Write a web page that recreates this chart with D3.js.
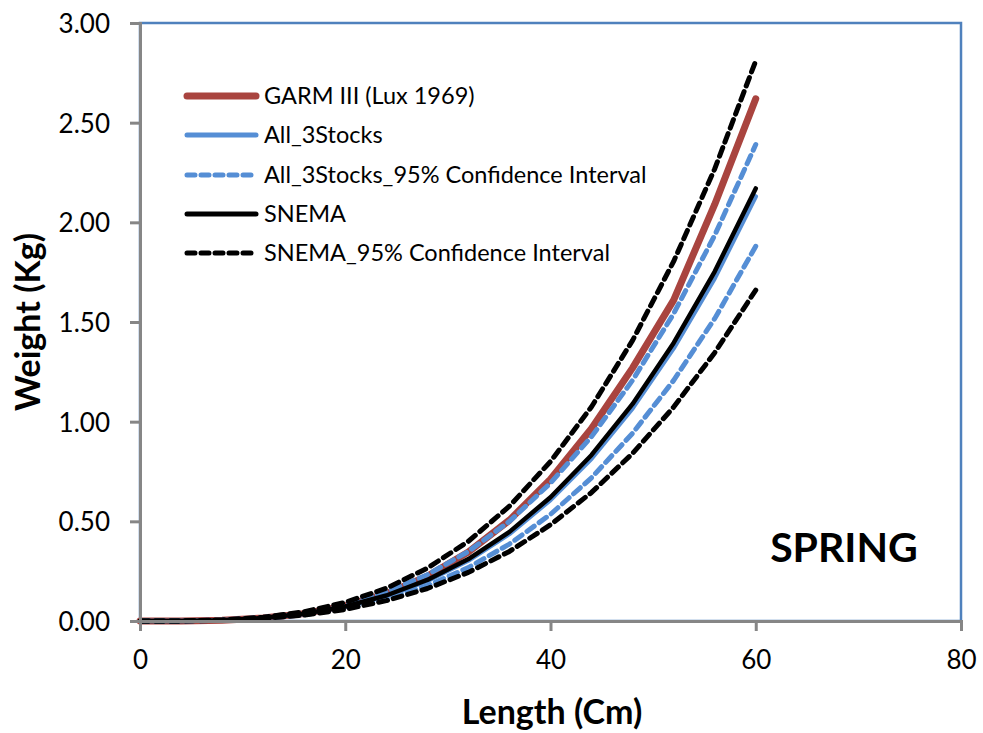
<!DOCTYPE html>
<html><head><meta charset="utf-8">
<script src="https://cdnjs.cloudflare.com/ajax/libs/d3/7.8.5/d3.min.js"></script>
<style>body{margin:0;background:#fff}svg{display:block}text{font-family:Lato,"Open Sans",sans-serif}</style>
</head><body><svg id="c" width="983" height="733"></svg>
<script>
const lengths = [0,4,8,12,16,20,24,28,32,36,40,44,48,52,56,60];
const garm      = [0,0.0004,0.004,0.0148,0.037,0.076,0.137,0.225,0.346,0.506,0.711,0.966,1.27,1.61,2.09,2.62];
const all3      = [0,0.0005,0.0041,0.0145,0.0354,0.0707,0.124,0.201,0.303,0.437,0.607,0.815,1.067,1.368,1.719,2.13];
const all3Upper = [0,0.0006,0.005,0.0174,0.0418,0.0828,0.145,0.232,0.349,0.500,0.692,0.925,1.208,1.542,1.935,2.39];
const all3Lower = [0,0.0004,0.0036,0.0128,0.0312,0.0624,0.110,0.177,0.268,0.386,0.535,0.719,0.942,1.207,1.517,1.88];
const snema     = [0,0.0005,0.0043,0.015,0.0365,0.0727,0.128,0.206,0.311,0.447,0.621,0.833,1.089,1.395,1.753,2.17];
const snemaUpper= [0,0.0006,0.0055,0.0192,0.0466,0.0933,0.164,0.265,0.400,0.576,0.800,1.075,1.408,1.804,2.268,2.81];
const snemaLower= [0,0.0004,0.0036,0.0123,0.0294,0.0581,0.102,0.163,0.244,0.349,0.483,0.645,0.841,1.073,1.346,1.66];
const xTicks = [0,20,40,60,80];
const yTicks = [0,0.5,1,1.5,2,2.5,3];
const seriesNames = ["GARM III (Lux 1969)","All_3Stocks","All_3Stocks_95% Confidence Interval","SNEMA","SNEMA_95% Confidence Interval"];

const svg = d3.select("#c");
const L=140,R=961,T=23,B=621;
const x = d3.scaleLinear().domain([0,80]).range([L,R]);
const y = d3.scaleLinear().domain([0,3]).range([B,T]);

svg.append("rect").attr("x",L).attr("y",T).attr("width",R-L).attr("height",B-T)
  .attr("fill","none").attr("stroke","#4F81BD").attr("stroke-width",2.5);

const red="#A9443F", blue="#558ED5", black="#000";
const dash="9,6";
const styles = [
  {d:snemaLower, c:black, w:5, dash:dash},
  {d:snemaUpper, c:black, w:5, dash:dash},
  {d:all3Lower, c:blue, w:5, dash:dash},
  {d:all3Upper, c:blue, w:5, dash:dash},
  {d:all3, c:blue, w:4.5, dash:null},
  {d:snema, c:black, w:4.5, dash:null},
  {d:garm, c:red, w:7, dash:null}
];
const order=[6,3,2,4,5,1,0];
const line = d3.line().x((v,i)=>x(lengths[i])).y(v=>y(v));
order.forEach(k=>{
  const s=styles[k];
  svg.append("path").attr("d",line(s.d)).attr("fill","none").attr("stroke",s.c)
    .attr("stroke-width",s.w).attr("stroke-linecap","round").attr("stroke-linejoin","round")
    .attr("stroke-dasharray",s.dash);
});

const xAxis = svg.append("g").attr("transform",`translate(0,${B})`)
  .call(d3.axisBottom(x).tickValues(xTicks).tickSize(10).tickPadding(20).tickFormat(d3.format("d")));
const yAxis = svg.append("g").attr("transform",`translate(${L},0)`)
  .call(d3.axisLeft(y).tickValues(yTicks).tickSize(10).tickPadding(20).tickFormat(d3.format(".2f")));
[xAxis,yAxis].forEach(g=>{
  g.select(".domain").attr("stroke","#868686").attr("stroke-width",3);
  g.selectAll(".tick line").attr("stroke","#868686").attr("stroke-width",3);
  g.selectAll(".tick text").attr("font-size",26).attr("fill","#000").style("font-family","Lato, sans-serif");
});
yAxis.selectAll(".tick text").attr("dy","0.36em");

svg.append("text").attr("x",552).attr("y",724).attr("text-anchor","middle")
  .attr("font-size",34).attr("font-weight","bold").text("Length (Cm)");
svg.append("text").attr("transform","translate(40,322) rotate(-90)").attr("text-anchor","middle")
  .attr("font-size",34).attr("font-weight","bold").text("Weight (Kg)");
svg.append("text").attr("x",844).attr("y",562).attr("text-anchor","middle")
  .attr("font-size",41).attr("font-weight","bold").text("SPRING");

const legStyles=[{c:red,w:7,dash:null},{c:blue,w:5,dash:null},{c:blue,w:5,dash:"8,6"},{c:black,w:5,dash:null},{c:black,w:5,dash:"8,6"}];
const legY=[96,135,175,214,253];
seriesNames.forEach((n,i)=>{
  const s=legStyles[i];
  svg.append("line").attr("x1",187).attr("x2",256).attr("y1",legY[i]).attr("y2",legY[i])
    .attr("stroke",s.c).attr("stroke-width",s.w).attr("stroke-linecap","round").attr("stroke-dasharray",s.dash);
  svg.append("text").attr("x",264).attr("y",legY[i]+8).attr("font-size",23.5).text(n);
});
</script></body></html>
